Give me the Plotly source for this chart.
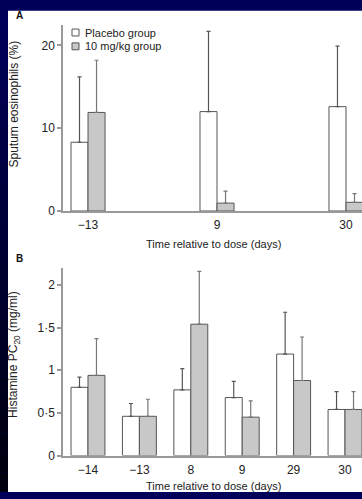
import plotly.graph_objects as go

W, H = 362, 499

# ---- data ----
days_a = ["\u221213", "9", "30"]
placebo_a = [8.3, 12.0, 12.6]
placebo_a_sd = [7.9, 9.7, 7.3]
drug_a = [11.9, 0.95, 1.05]
drug_a_sd = [6.3, 1.45, 1.05]

days_b = ["\u221214", "\u221213", "8", "9", "29", "30"]
placebo_b = [0.80, 0.46, 0.77, 0.68, 1.19, 0.54]
placebo_b_sd = [0.12, 0.15, 0.25, 0.19, 0.49, 0.21]
drug_b = [0.94, 0.46, 1.54, 0.45, 0.88, 0.54]
drug_b_sd = [0.43, 0.20, 0.62, 0.19, 0.51, 0.21]

yticks_b = [0, 0.5, 1, 1.5, 2]
yticks_b_text = ["0", "0\u00b75", "1", "1\u00b75", "2"]

FONT = "Liberation Sans, Arial, sans-serif"
TXT = "#222222"
EDGE = "#555555"
GREY = "#c8c8c8"
AXC = "#999999"

def px(x):
    return x / W

def py(y):
    return 1 - y / H

fig = go.Figure()

def add_pair(cats, pv, ps, dv, ds, xa, ya, w):
    common = dict(xaxis=xa, yaxis=ya, showlegend=False, width=w)
    fig.add_trace(go.Bar(x=cats, y=pv, offset=-w, marker=dict(color="white", line=dict(color=EDGE, width=1)),
                         error_y=dict(type="data", array=ps, arrayminus=[0]*len(ps), symmetric=False,
                                      color="#555555", thickness=1.2, width=2), **common))
    fig.add_trace(go.Bar(x=cats, y=dv, offset=0, marker=dict(color=GREY, line=dict(color=EDGE, width=1)),
                         error_y=dict(type="data", array=ds, arrayminus=[0]*len(ds), symmetric=False,
                                      color="#777777", thickness=1.2, width=2), **common))

add_pair(days_a, placebo_a, placebo_a_sd, drug_a, drug_a_sd, "x", "y", 0.132)
add_pair(days_b, placebo_b, placebo_b_sd, drug_b, drug_b_sd, "x2", "y2", 0.33)

axis_common = dict(showline=True, linecolor=AXC, linewidth=1.5, showgrid=False, zeroline=False,
                   tickfont=dict(family=FONT, size=12, color=TXT))

fig.update_layout(
    width=W, height=H, margin=dict(l=0, r=0, t=0, b=0),
    paper_bgcolor="#000058", plot_bgcolor="white",
    barmode="overlay", showlegend=False,
    font=dict(family=FONT, color=TXT),
    xaxis=dict(domain=[px(63), 1], anchor="y", type="category", range=[-0.194, 2.124],
               ticks="", ticklabelstandoff=2, **axis_common),
    yaxis=dict(domain=[py(214), py(25)], anchor="x", range=[0, 22.5], tickvals=[0, 10, 20],
               ticks="outside", ticklen=4, tickcolor=AXC, tickwidth=1.5, **axis_common),
    xaxis2=dict(domain=[px(63), 1], anchor="y2", type="category", range=[-0.486, 5.33],
                ticks="", ticklabelstandoff=2, **axis_common),
    yaxis2=dict(domain=[py(462), py(272)], anchor="x2", range=[0, 2.197], tickvals=yticks_b,
                ticktext=yticks_b_text, ticks="outside", ticklen=4, tickcolor=AXC, tickwidth=1.5,
                **axis_common),
)

shapes = [dict(type="rect", xref="paper", yref="paper", x0=px(8), x1=1, y0=0, y1=py(11),
               fillcolor="white", line=dict(width=0), layer="below")]
# left strip gradient (navy to black)
n = 25
for i in range(n):
    t = i / (n - 1)
    b = int(round(0x5a * (1 - 0.85 * t)))
    y0 = 11 + (H - 11) * i / n
    y1 = 11 + (H - 11) * (i + 1) / n
    shapes.append(dict(type="rect", xref="paper", yref="paper", x0=0, x1=px(8), y0=py(y1), y1=py(y0),
                       fillcolor=f"rgb(0,0,{b})", line=dict(width=0), layer="below"))
# legend boxes
for yy, col in [(33, "white"), (47, GREY)]:
    shapes.append(dict(type="rect", xref="paper", yref="paper", x0=px(72), x1=px(79),
                       y0=py(yy + 3.5), y1=py(yy - 3.5), fillcolor=col, line=dict(color=EDGE, width=1)))
fig.update_layout(shapes=shapes)

ann = []
def a(text, x, y, size=11, angle=0, bold=False, xanchor="center"):
    ann.append(dict(text=f"<b>{text}</b>" if bold else text, x=px(x), y=py(y), xref="paper", yref="paper",
                    showarrow=False, textangle=angle, xanchor=xanchor, yanchor="middle",
                    font=dict(family=FONT, size=size, color="#111111" if bold else TXT)))

a("A", 19, 16, size=10, bold=True)
a("B", 19, 262, size=10, bold=True)
a("Placebo group", 83, 33, xanchor="left")
a("10 mg/kg group", 83, 47, xanchor="left")
a("Time relative to dose (days)", 213, 247)
a("Time relative to dose (days)", 213, 493)
a("Sputum eosinophils (%)", 14, 106, size=12, angle=-90)
a("Histamine PC<sub>20</sub> (mg/ml)", 14, 360, size=12, angle=-90)
fig.update_layout(annotations=ann)

fig.write_html("out.html")
